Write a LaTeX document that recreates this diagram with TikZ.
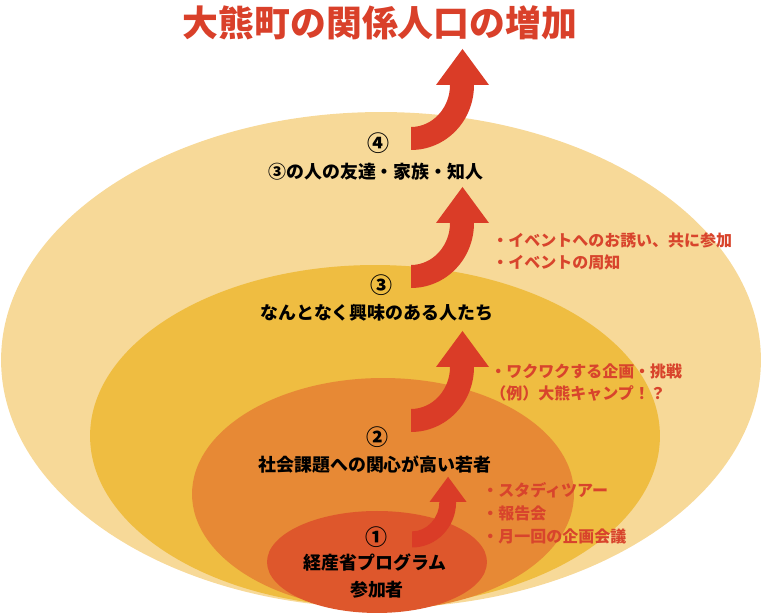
\documentclass[tikz,border=0pt]{standalone}
\usepackage{fontspec}
\setmainfont{Noto Sans CJK JP}
\usetikzlibrary{shapes.geometric, positioning}

\definecolor{ringpale}{HTML}{F7D998}
\definecolor{ringgold}{HTML}{EFBD41}
\definecolor{ringorange}{HTML}{E78935}
\definecolor{ringred}{HTML}{DE572C}
\definecolor{arrowred}{HTML}{DA3C27}
\definecolor{titlered}{HTML}{D9402A}
\definecolor{notered}{HTML}{D8442C}

\begin{document}
\begin{tikzpicture}[
    x=0.02cm, y=0.02cm,
    layer/.style={ellipse, inner sep=0pt, draw=none},
    num/.style={font=\bfseries\fontsize{12.5}{14}\selectfont, inner sep=0pt},
    lvltext/.style={font=\bfseries\fontsize{10.2}{12}\selectfont, inner sep=0pt, align=center},
    note/.style={font=\bfseries\fontsize{9.1}{13}\selectfont, text=notered, inner sep=0pt, align=left, anchor=west},
    curvedarrow/.pic={
        \fill[arrowred] (0,-65) .. controls (35,-65) and (63,-36) .. (63,0)
            -- (78,0) -- (51.5,36) -- (25,0) -- (39,0)
            .. controls (39,-23) and (21.5,-42) .. (0,-42) -- cycle;
    }
]
\useasboundingbox (0,0) rectangle (762,614);

% Rings
\node[layer, fill=ringpale, minimum width=15.2cm, minimum height=9.92cm] (outer) at (381,254) {};
\node[layer, fill=ringgold, minimum width=11.4cm, minimum height=6.84cm] (middle) at (375,178) {};
\node[layer, fill=ringorange, minimum width=7.64cm, minimum height=4.64cm] (inner) at (383,120) {};
\node[layer, fill=ringred, minimum width=4.4cm, minimum height=2.04cm] (core) at (377,52) {};

% Arrows
\pic at (411,529) {curvedarrow};
\pic at (411,391) {curvedarrow};
\pic at (411,247) {curvedarrow};
\pic[scale=0.7] at (412,112) {curvedarrow};

% Title
\node[font=\bfseries\fontsize{20.4}{24}\selectfont, text=titlered] (title) at (380,591) {大熊町の関係人口の増加};

% Level 4
\node[num] (n4) at (378,471) {④};
\node[lvltext] (t4) at (376,442) {③の人の友達・家族・知人};

% Level 3
\node[num] (n3) at (381,329) {③};
\node[lvltext] (t3) at (377,301) {なんとなく興味のある人たち};

% Level 2
\node[num] (n2) at (377,177) {②};
\node[lvltext] (t2) at (375,149) {社会課題への関心が高い若者};

% Level 1
\node[num] (n1) at (376,77) {①};
\node[lvltext] (t1) at (375,51) {経産省プログラム};
\node[lvltext] (t1b) at (377,24) {参加者};

% Notes
\node[note] (noteA) at (492,362.5) {・イベントへのお誘い、共に参加\\・イベントの周知};
\node[note] (noteB) at (490,231.5) {・ワクワクする企画・挑戦\\（例）大熊キャンプ！？};
\node[note] (noteC) at (482,101) {・スタディツアー\\・報告会\\・月一回の企画会議};

\end{tikzpicture}
\end{document}
